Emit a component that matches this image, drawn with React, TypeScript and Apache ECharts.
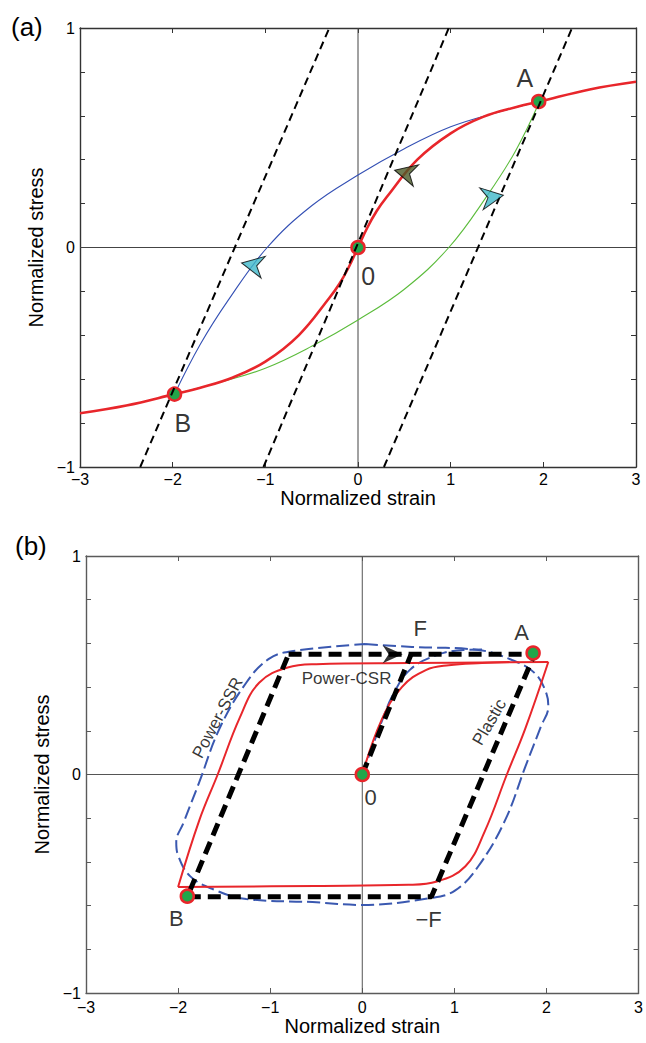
import { useEffect, useRef } from "react";
import * as echarts from "echarts";

type Pt = [number, number];

const FONT = "'Liberation Sans', Arial, Helvetica, sans-serif";

// ---------- Panel (a) ----------
const xTicks = [-3, -2, -1, 0, 1, 2, 3];
const yLabelled = [-1, 0, 1];

const backboneA: Pt[] = [
  [-3, -0.755], [-2.5, -0.72], [-1.98, -0.668], [-1.71, -0.64], [-1.35, -0.592],
  [-1.0, -0.52], [-0.64, -0.4], [-0.31, -0.23], [-0.2, -0.165], [-0.1, -0.09], [0, 0],
  [0.1, 0.09], [0.2, 0.165], [0.31, 0.23], [0.64, 0.4], [1.0, 0.52], [1.35, 0.595],
  [1.71, 0.64], [1.96, 0.665], [2.5, 0.72], [3, 0.755],
];
const reloadA: Pt[] = [
  [-1.98, -0.668], [-1.7, -0.44], [-1.4, -0.24], [-0.98, 0], [-0.5, 0.19],
  [0, 0.33], [0.5, 0.45], [1.0, 0.55], [1.5, 0.615], [1.96, 0.665],
];
const unloadA: Pt[] = [
  [1.96, 0.665], [1.7, 0.44], [1.4, 0.24], [0.98, 0], [0.5, -0.19],
  [0, -0.33], [-0.5, -0.45], [-1.0, -0.55], [-1.5, -0.615], [-1.98, -0.668],
];
const elasticLinesA: Pt[][] = [
  [[-2.35, -1], [-0.31, 1]],
  [[-1.02, -1], [0.98, 1]],
  [[0.28, -1], [2.31, 1]],
];
const statePointsA: Pt[] = [[0, 0], [1.95, 0.665], [-1.98, -0.668]];
const stateNamesA = ["0", "A", "B"];
const stateLabelAtA: Pt[] = [[0.11, -0.13], [1.8, 0.77], [-1.89, -0.8]];
const arrowAtA: Pt[] = [[0.51, 0.34], [-1.14, -0.08], [1.45, 0.23]];
const arrowAngleA = [76, 79, -81];

// ---------- Panel (b) ----------
const plasticLoad: Pt[] = [[0, 0], [0.53, 0.55]];
const plasticLoop: Pt[] = [
  [-0.8, 0.55], [1.87, 0.55], [0.75, -0.56], [-1.9, -0.56], [-0.8, 0.55],
];
const csrUpper: Pt[] = [
  [-2.0, -0.515], [-1.77, -0.21], [-1.57, 0.0], [-1.33, 0.26], [-1.12, 0.42],
  [-0.81, 0.49], [-0.5, 0.505], [0.5, 0.51], [2.02, 0.515],
];
const csrLower: Pt[] = [
  [2.02, 0.515], [1.77, 0.21], [1.57, 0.0], [1.33, -0.26], [1.12, -0.42],
  [0.81, -0.49], [0.5, -0.505], [-0.5, -0.51], [-2.0, -0.515],
];
const csrVirgin: Pt[] = [
  [0, 0], [0.21, 0.25], [0.43, 0.4], [0.69, 0.478], [0.94, 0.5], [1.3, 0.51], [1.6, 0.515],
];
const ssrLoop: Pt[] = [
  [0.03, 0.597], [0.54, 0.584], [1.26, 0.57], [1.62, 0.525], [1.87, 0.465], [2.0, 0.37],
  [2.02, 0.31], [1.94, 0.22], [1.77, 0.035], [1.55, -0.21], [1.26, -0.42], [1.01, -0.53],
  [0.75, -0.565], [0.0, -0.597], [-0.54, -0.584], [-1.26, -0.57], [-1.62, -0.525],
  [-1.87, -0.465], [-2.0, -0.37], [-2.02, -0.31], [-1.94, -0.22], [-1.77, -0.035],
  [-1.55, 0.21], [-1.26, 0.42], [-1.01, 0.53], [-0.75, 0.565], [0.03, 0.597],
];
const ssrVirgin: Pt[] = [
  [0, 0], [0.2, 0.23], [0.34, 0.37], [0.52, 0.48], [0.8, 0.545], [1.1, 0.57], [1.3, 0.572],
];
const statePointsB: Pt[] = [[0, 0], [1.855, 0.556], [-1.9, -0.557]];
const pointNamesB = ["0", "A", "B", "F", "−F"];
const pointLabelAtB: Pt[] = [[0.09, -0.105], [1.73, 0.65], [-2.02, -0.66], [0.63, 0.67], [0.72, -0.665]];
const curveNamesB = ["Power-CSR", "Power-SSR", "Plastic"];
const curveNameAtB: Pt[] = [[-0.17, 0.44], [-1.57, 0.26], [1.38, 0.24]];
const curveNameAngleB = [0, 62, 60];
const arrowAtB: Pt[] = [[0.33, 0.55]];

const ARROW = "path://M5,0 L10,10 L5,7 L0,10 Z";

const RED = "#e8262b";
const DOT = "#22a64a";

function fmtTick(v: number) {
  const r = Math.round(v);
  if (Math.abs(v - r) > 1e-6) return "";
  if (!yLabelled.includes(r) && !xTicks.includes(r)) return "";
  return r < 0 ? "−" + Math.abs(r) : String(r);
}

function App() {
  const ref = useRef<HTMLDivElement>(null);

  useEffect(() => {
    document.body.style.margin = "0";
    const chart = echarts.init(ref.current!, undefined, { renderer: "svg" });

    const axisColorA = "#333";
    const axisColorB = "#5a5a5a";

    const xAxis = (grid: number, pos: "bottom" | "top", color: string, labelled: boolean, nameGap: number, margin: number) => ({
      type: "value" as const,
      gridIndex: grid,
      position: pos,
      min: -3,
      max: 3,
      interval: 1,
      name: labelled ? "Normalized strain" : "",
      nameLocation: "middle" as const,
      nameGap,
      nameTextStyle: { fontFamily: FONT, fontSize: 20, color: "#000" },
      axisLine: { show: true, onZero: false, lineStyle: { color, width: 1.4 } },
      axisTick: { show: true, inside: true, length: 5, lineStyle: { color, width: 1 } },
      axisLabel: {
        show: labelled,
        margin,
        formatter: fmtTick,
        fontFamily: FONT,
        fontSize: 16,
        color: "#000",
      },
      splitLine: { show: false },
    });

    const yAxis = (grid: number, pos: "left" | "right", color: string, labelled: boolean, nameGap: number) => ({
      type: "value" as const,
      gridIndex: grid,
      position: pos,
      min: -1,
      max: 1,
      interval: 0.2,
      name: labelled ? "Normalized stress" : "",
      nameLocation: "middle" as const,
      nameGap,
      nameRotate: 90,
      nameTextStyle: { fontFamily: FONT, fontSize: 20, color: "#000" },
      axisLine: { show: true, onZero: false, lineStyle: { color, width: 1.4 } },
      axisTick: { show: true, inside: true, length: 5, lineStyle: { color, width: 1 } },
      axisLabel: {
        show: labelled,
        margin: 5,
        formatter: fmtTick,
        fontFamily: FONT,
        fontSize: 16,
        color: "#000",
      },
      splitLine: { show: false },
    });

    const line = (
      grid: number,
      data: Pt[],
      color: string,
      width: number,
      opts: { type?: number[] | "solid"; smooth?: number | boolean; z?: number } = {}
    ) => ({
      type: "line" as const,
      xAxisIndex: grid * 2,
      yAxisIndex: grid * 2,
      data,
      symbol: "none",
      smooth: opts.smooth ?? false,
      silent: true,
      z: opts.z ?? 2,
      lineStyle: { color, width, type: opts.type ?? "solid", cap: "butt" as const },
    });

    const dots = (grid: number, pts: Pt[], z: number) => ({
      type: "scatter" as const,
      xAxisIndex: grid * 2,
      yAxisIndex: grid * 2,
      data: pts,
      symbol: "circle",
      symbolSize: 13,
      z,
      silent: true,
      itemStyle: { color: DOT, borderColor: RED, borderWidth: 2.5, opacity: 1 },
    });

    const texts = (grid: number, names: string[], at: Pt[], size: number, angles?: number[]) => ({
      type: "scatter" as const,
      xAxisIndex: grid * 2,
      yAxisIndex: grid * 2,
      symbol: "circle",
      symbolSize: 1,
      z: 20,
      silent: true,
      itemStyle: { color: "transparent" },
      data: at.map((p, i) => ({
        value: p,
        label: {
          show: true,
          position: "inside" as const,
          formatter: names[i],
          rotate: angles ? angles[i] : 0,
          fontFamily: FONT,
          fontSize: size,
          color: "#000",
          textBorderWidth: 0,
        },
      })),
    });

    const arrows = (grid: number, at: Pt[], angles: number[], colors: string[], size: number[]) => ({
      type: "scatter" as const,
      xAxisIndex: grid * 2,
      yAxisIndex: grid * 2,
      symbol: ARROW,
      symbolSize: size,
      z: 15,
      silent: true,
      data: at.map((p, i) => ({
        value: p,
        symbolRotate: angles[i],
        itemStyle: { color: colors[i], borderColor: "#000", borderWidth: grid === 0 ? 1 : 0 },
      })),
    });

    const zeroLines = (grid: number, color: string) => [
      line(grid, [[-3, 0], [3, 0]], color, 1, { z: 1 }),
      line(grid, [[0, -1], [0, 1]], color, 1, { z: 1 }),
    ];

    chart.setOption({
      animation: false,
      backgroundColor: "#fff",
      grid: [
        { left: 80, top: 28, width: 556, height: 439 },
        { left: 86, top: 556, width: 555, height: 437 },
      ],
      xAxis: [
        xAxis(0, "bottom", axisColorA, true, 15, 4),
        xAxis(0, "top", axisColorA, false, 0, 4),
        xAxis(1, "bottom", axisColorB, true, 23, 6),
        xAxis(1, "top", axisColorB, false, 0, 6),
      ],
      yAxis: [
        yAxis(0, "left", axisColorA, true, 25),
        yAxis(0, "right", axisColorA, false, 0),
        yAxis(1, "left", axisColorB, true, 32),
        yAxis(1, "right", axisColorB, false, 0),
      ],
      graphic: [
        { type: "text", left: 11, top: 14, style: { text: "(a)", fontFamily: FONT, fontSize: 26, fill: "#000" } },
        { type: "text", left: 15, top: 533, style: { text: "(b)", fontFamily: FONT, fontSize: 26, fill: "#000" } },
      ],
      series: [
        // panel (a)
        ...zeroLines(0, "#444"),
        line(0, reloadA, "#3450b4", 1.1, { smooth: 0.4, z: 3 }),
        line(0, unloadA, "#5cbc3c", 1.1, { smooth: 0.4, z: 3 }),
        line(0, backboneA, RED, 2.6, { smooth: 0.4, z: 4 }),
        dots(0, statePointsA, 5),
        ...elasticLinesA.map((seg) => line(0, seg, "#000", 2, { type: [8, 5], z: 8 })),
        arrows(0, arrowAtA, arrowAngleA, ["#4b5a27", "#3fb8c9", "#3fb8c9"], [22, 22]),
        texts(0, stateNamesA, stateLabelAtA, 25),

        // panel (b)
        ...zeroLines(1, "#555"),
        line(1, ssrLoop, "#3a58b0", 2, { type: [13, 5], smooth: 0.4, z: 3 }),
        line(1, ssrVirgin, "#3a58b0", 2, { type: [13, 5], smooth: 0.4, z: 3 }),
        line(1, csrUpper, RED, 2, { smooth: 0.4, z: 4 }),
        line(1, csrLower, RED, 2, { smooth: 0.4, z: 4 }),
        line(1, csrVirgin, RED, 2, { smooth: 0.4, z: 4 }),
        line(1, plasticLoad, "#000", 5, { type: [13, 7], z: 6 }),
        line(1, plasticLoop, "#000", 5, { type: [13, 7], z: 6 }),
        arrows(1, arrowAtB, [-90], ["#000"], [18, 20]),
        dots(1, statePointsB, 12),
        texts(1, pointNamesB, pointLabelAtB, 22),
        texts(1, curveNamesB, curveNameAtB, 17, curveNameAngleB),
      ],
    });

    return () => chart.dispose();
  }, []);

  return <div ref={ref} style={{ width: 646, height: 1043 }} />;
}

export default App;
